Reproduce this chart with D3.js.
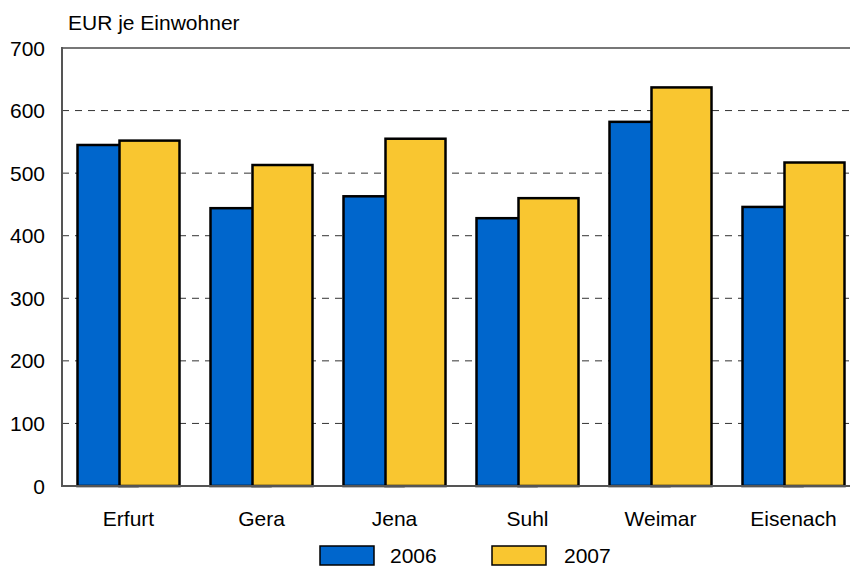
<!DOCTYPE html>
<html><head><meta charset="utf-8">
<script src="https://cdn.jsdelivr.net/npm/d3@7"></script>
<style>body{margin:0;background:#fff}svg{display:block}text{font-family:"Liberation Sans",Arial,sans-serif;fill:#000}</style>
</head><body><svg id="c" width="850" height="567"></svg>
<script>
const categories = ["Erfurt","Gera","Jena","Suhl","Weimar","Eisenach"];
const values2006 = [545,444,463,428,582,446];
const values2007 = [552,513,555,460,637,517];
const seriesNames = ["2006","2007"];
const colors = ["#0066CC","#F9C630"];
const yTicks = [0,100,200,300,400,500,600,700];

const svg = d3.select("#c");
const L = 62, R = 860, T = 48, B = 486;
const x = d3.scaleBand().domain(categories).range([L, R]).padding(0);
const y = d3.scaleLinear().domain([0,700]).range([B, T]);
const step = x.bandwidth();
const bw = step * 60/133;
const off = [-51/133*step, -9/133*step];
const FS = "21px";

// gridlines
svg.append("g").selectAll("line").data(yTicks.filter(d=>d>0 && d<700)).join("line")
  .attr("x1", L).attr("x2", R).attr("y1", d=>y(d)).attr("y2", d=>y(d))
  .attr("stroke","#333").attr("stroke-width",1).attr("stroke-dasharray","7,6");
// top border
svg.append("line").attr("x1",L).attr("x2",R).attr("y1",y(700)).attr("y2",y(700))
  .attr("stroke","#777").attr("stroke-width",2);

const series = [values2006, values2007];
series.forEach((vals, si) => {
  svg.append("g").selectAll("rect").data(categories).join("rect")
    .attr("x", (c)=> x(c) + step/2 + off[si])
    .attr("y", (c,i)=> y(vals[i]))
    .attr("width", bw)
    .attr("height", (c,i)=> y(0) - y(vals[i]))
    .attr("fill", colors[si]).attr("stroke","#000").attr("stroke-width",2.5);
});

// axes
svg.append("line").attr("x1",L).attr("x2",L).attr("y1",T-1).attr("y2",B+1).attr("stroke","#555").attr("stroke-width",2);
svg.append("line").attr("x1",L-1).attr("x2",R).attr("y1",B).attr("y2",B).attr("stroke","#555").attr("stroke-width",2);

// y tick labels
svg.append("g").selectAll("text").data(yTicks).join("text")
  .attr("x", 45).attr("y", d=>y(d)+7.5).attr("text-anchor","end")
  .attr("font-size",FS).text(d=>d);

// x labels
svg.append("g").selectAll("text").data(categories).join("text")
  .attr("x", c=> x(c)+step/2).attr("y", 526).attr("text-anchor","middle")
  .attr("font-size",FS).text(c=>c);

// title
svg.append("text").attr("x",68).attr("y",29.5).attr("font-size",FS).text("EUR je Einwohner");

// legend
const lg = [{x:320, tx:390},{x:492, tx:564}];
seriesNames.forEach((n,i)=>{
  svg.append("rect").attr("x",lg[i].x).attr("y",546).attr("width",54).attr("height",19)
    .attr("fill",colors[i]).attr("stroke","#000").attr("stroke-width",1.5);
  svg.append("text").attr("x",lg[i].tx).attr("y",563).attr("font-size",FS).text(n);
});
</script></body></html>
